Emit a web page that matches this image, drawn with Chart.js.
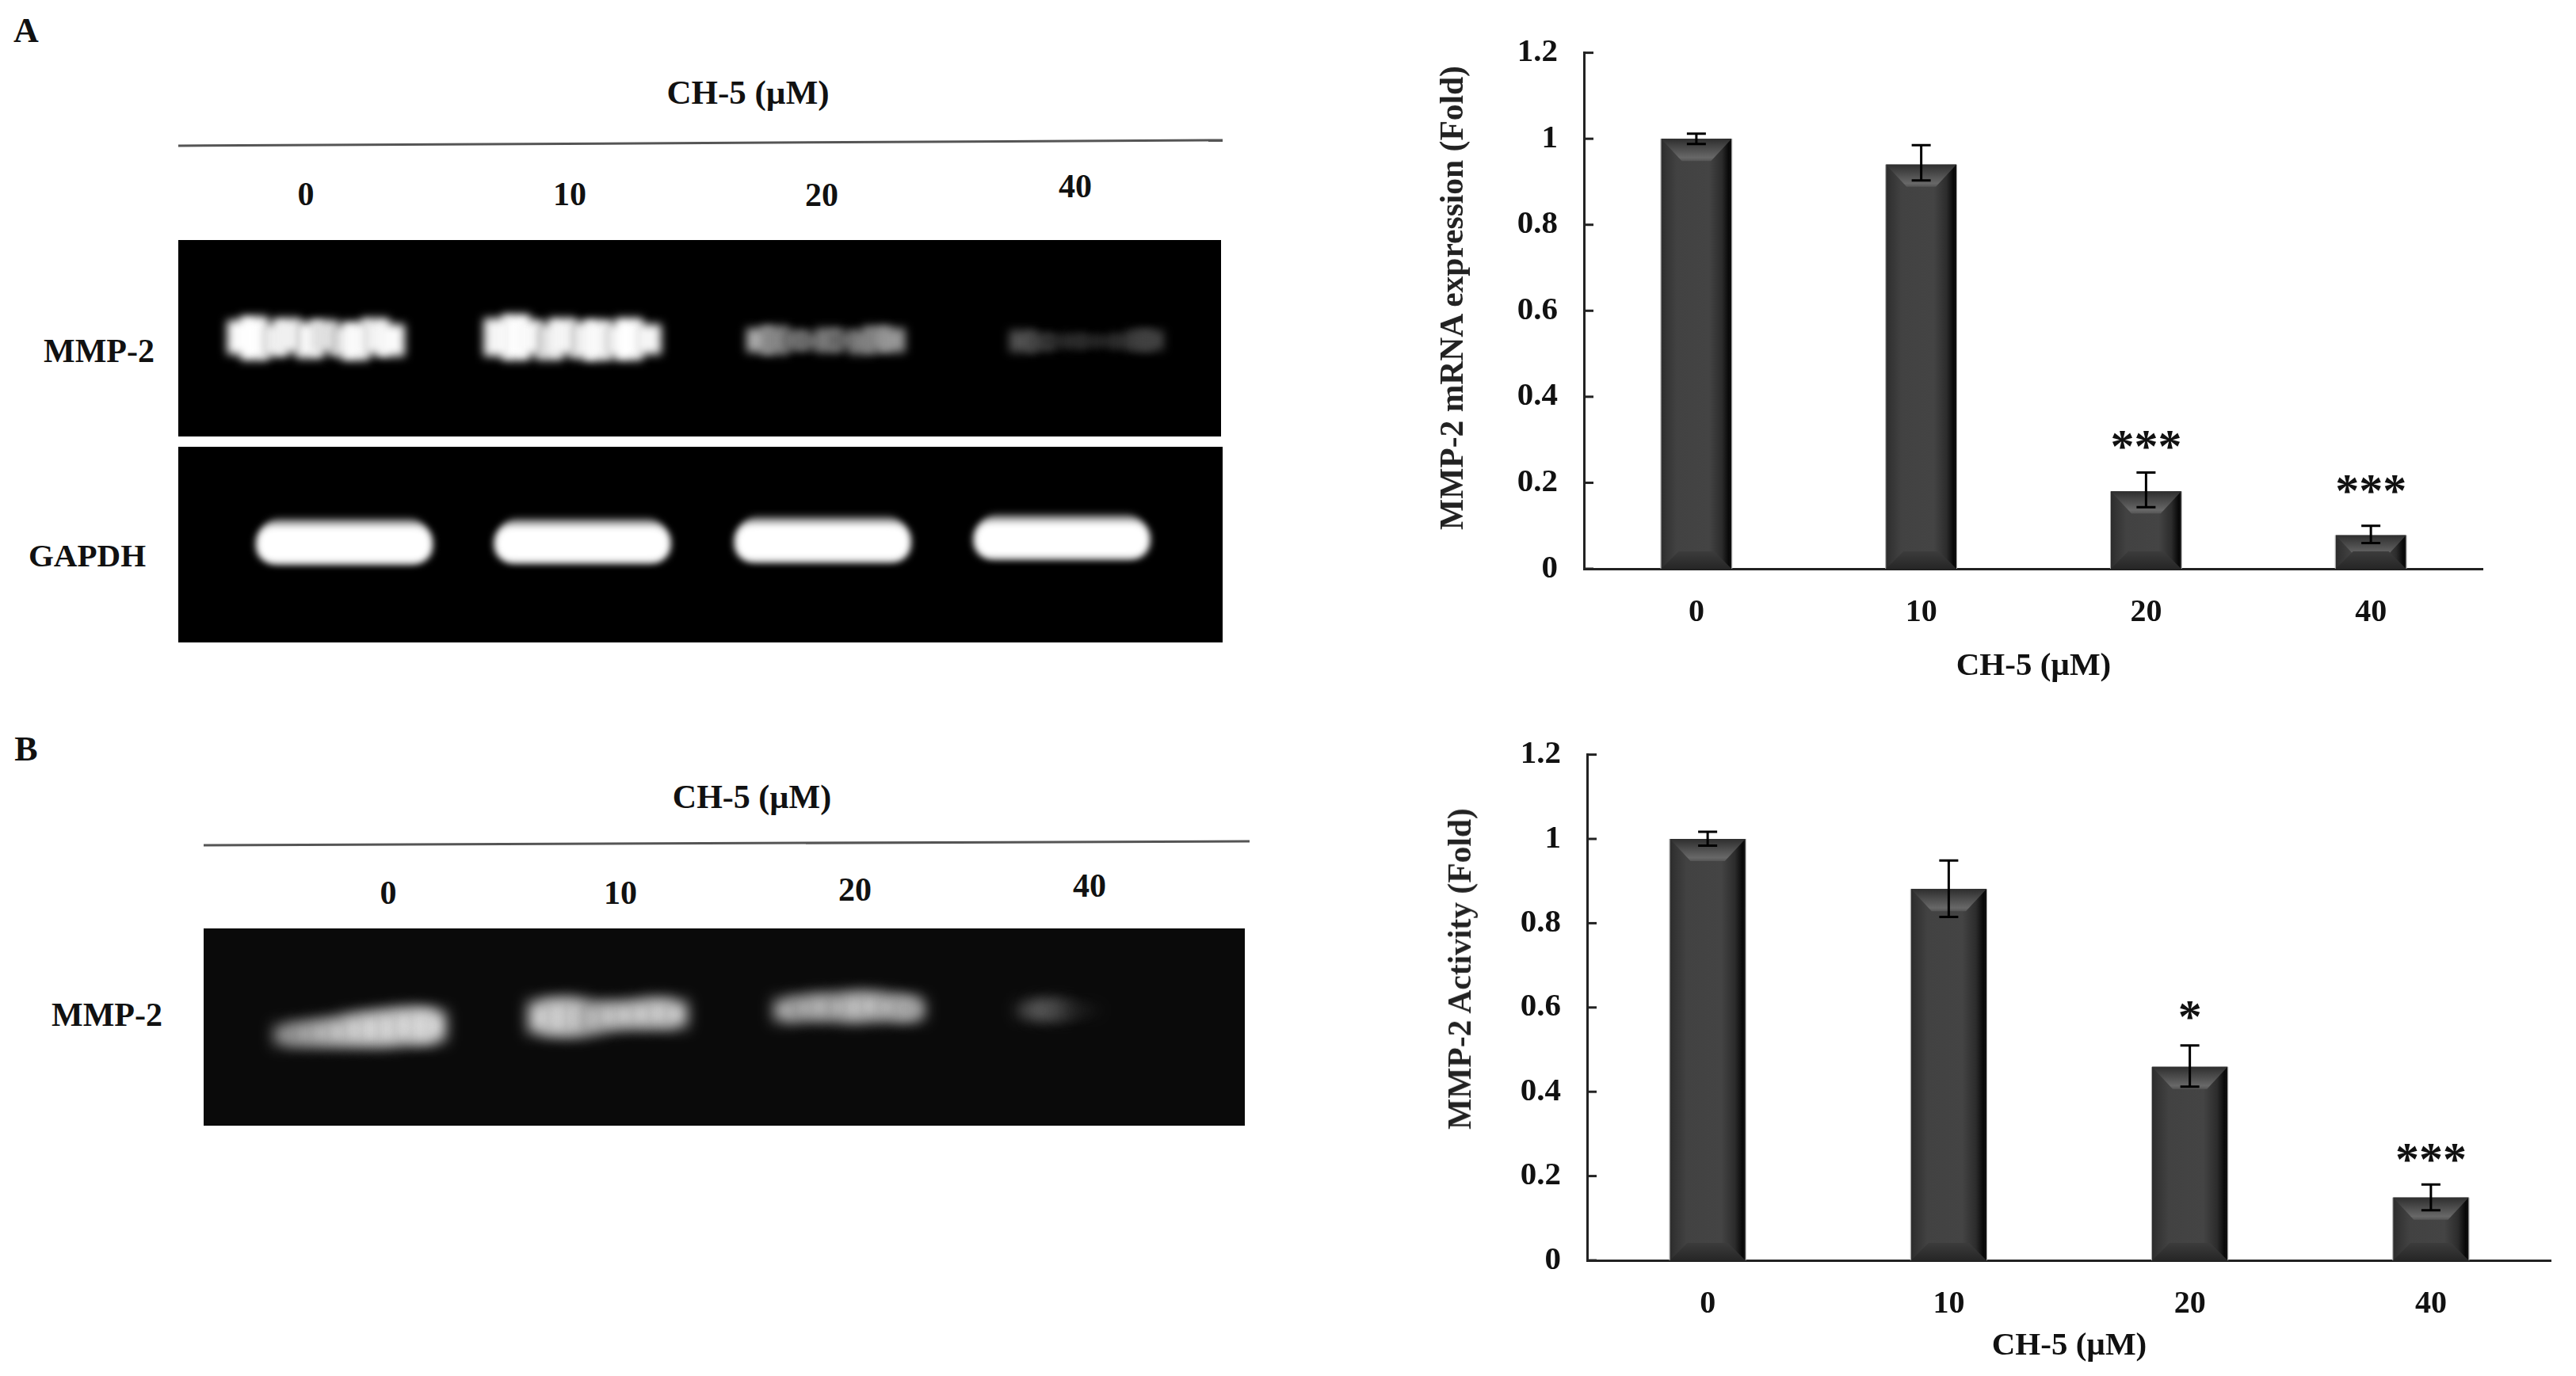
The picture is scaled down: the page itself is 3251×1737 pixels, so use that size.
<!DOCTYPE html>
<html>
<head>
<meta charset="utf-8">
<script src="https://cdn.jsdelivr.net/npm/chart.js@4"></script>
<style>
  body { margin: 0; background: #fff; width: 3251px; height: 1737px; overflow: hidden; position: relative; }
  canvas { position: absolute; }
  .lbl { position: absolute; transform: translate(-50%, -50%); font: bold 42px "Liberation Serif", serif; color: #111; white-space: nowrap; }
  .ytitle { transform: translate(-50%, -50%) rotate(-90deg); color: #222; }
  svg { position: absolute; left: 0; top: 0; }
</style>
</head>
<body>
<svg width="3251" height="1737">
  <line x1="225" y1="184" x2="1543" y2="177" stroke="#555" stroke-width="3"/>
  <line x1="257" y1="1067" x2="1577" y2="1062" stroke="#555" stroke-width="3"/>
</svg>

<canvas id="gelA1" width="1316" height="248" style="left:225px;top:303px;background:#000"></canvas>
<canvas id="gelA2" width="1318" height="247" style="left:225px;top:564px;background:#000"></canvas>
<canvas id="gelB" width="1314" height="249" style="left:257px;top:1172px;background:#0a0a0a"></canvas>
<canvas id="barsA" width="1327" height="849" style="left:1807px;top:17px"></canvas>
<canvas id="barsB" width="1403" height="821" style="left:1817px;top:903px"></canvas>

<script>
// bar panels
const doses = ['0', '10', '20', '40'];
const yTickLabels = ['0', '0.2', '0.4', '0.6', '0.8', '1', '1.2'];

const mrnaValues = [1.0, 0.94, 0.18, 0.078];
const mrnaErrLow = [0.988, 0.903, 0.143, 0.06];
const mrnaErrHigh = [1.012, 0.985, 0.224, 0.10];
const mrnaStars = ['', '', '***', '***'];
const mrnaStarLevel = [null, null, 0.278, 0.174];

const activityValues = [1.0, 0.881, 0.459, 0.149];
const activityErrLow = [0.984, 0.815, 0.412, 0.119];
const activityErrHigh = [1.017, 0.949, 0.51, 0.18];
const activityStars = ['', '', '*', '***'];
const activityStarLevel = [null, null, 0.57, 0.233];

// gel bands, in percent of the gel width and height
const gelA1X = [6, 7.3, 9.2, 10.4, 12.6, 14, 15.9, 17, 18.9, 20.4,
  30.6, 32.4, 33.6, 35.6, 36.8, 38.9, 40.2, 42, 43.2, 45,
  55.8, 57.2, 59.2, 60.4, 62.4, 63.6, 65.6, 67, 68.4,
  81, 82.8, 84, 86, 87.2, 89.2, 90.6, 92.2, 93.2];
const gelA1Low = [42, 39, 41, 43, 40, 43, 41, 39, 42, 41,
  41, 39, 42, 39, 42, 40, 39, 41, 39, 42,
  43, 42, 44, 45, 43, 45, 42, 44, 43,
  43, 44, 46, 45, 46, 46, 45, 44, 44];
const gelA1High = [59, 61, 57, 60, 58, 59, 56, 58, 60, 57,
  60, 62, 59, 57, 60, 58, 59, 57, 60, 57,
  55, 56, 54, 52, 55, 53, 54, 56, 55,
  54, 52, 51, 52, 51, 51, 52, 54, 54];
const gelA1Grey = [250, 255, 235, 240, 250, 225, 215, 250, 240, 250,
  245, 255, 250, 220, 245, 235, 250, 230, 255, 245,
  170, 135, 115, 105, 125, 100, 125, 130, 150,
  80, 70, 42, 45, 42, 42, 45, 60, 65];

const gelA2X = [15.9, 38.7, 61.7, 84.6];
const gelA2Low = [40.5, 41, 41.5, 43];
const gelA2High = [60, 60, 61, 62];
const gelA2HaloHigh = [63, 63, 64, 65];

const gelBX = [8, 9.6, 11.2, 12.8, 14.4, 16, 17.6, 19.2, 20.8, 22,
  32.4, 34, 35.6, 37.2, 38.8, 40.4, 42, 43.6, 45.2,
  56, 57.6, 59.2, 60.8, 62.4, 64, 65.6, 67.2, 68,
  79.3, 80.6, 82, 83.4, 84.8];
const gelBLow = [41, 41, 41, 41, 41, 41, 41, 42, 42, 43,
  47, 46, 46, 47, 49, 50, 50, 50, 50,
  53, 54, 54, 54, 53, 54, 54, 54, 54,
  55, 54.5, 54.5, 56, 57];
const gelBHigh = [51, 52, 53, 54, 56, 57, 58, 59, 59, 58,
  63, 64, 64, 62, 62, 62, 63, 64, 63,
  64, 65, 66, 66, 67, 67, 66, 65, 64,
  62, 63, 63, 61, 60];
const gelBGrey = [150, 165, 180, 195, 205, 215, 215, 215, 220, 215,
  205, 210, 205, 180, 195, 205, 205, 205, 205,
  175, 170, 185, 175, 190, 195, 185, 180, 165,
  70, 95, 80, 45, 30];

const serif = '"Liberation Serif", serif';

// plain text around the panels: [text, x, y, size, extra class]
const labels = [
  ['A', 33, 38, 44], ['B', 33, 945, 44],
  ['CH-5 (µM)', 944, 116, 43], ['CH-5 (µM)', 949, 1006, 42],
  ['0', 386, 245, 42], ['10', 719, 245, 42], ['20', 1037, 246, 42], ['40', 1357, 235, 42],
  ['0', 490, 1127, 42], ['10', 783, 1127, 42], ['20', 1079, 1123, 42], ['40', 1375, 1118, 42],
  ['MMP-2', 125, 443, 42], ['GAPDH', 110, 701, 41], ['MMP-2', 135, 1281, 42],
  ['MMP-2 mRNA expression (Fold)', 1832, 376, 41.5, 'ytitle'],
  ['MMP-2 Activity (Fold)', 1842, 1223, 41.5, 'ytitle']
];
labels.forEach(([text, x, y, size, cls]) => {
  const d = document.createElement('div');
  d.className = 'lbl' + (cls ? ' ' + cls : '');
  d.textContent = text;
  d.style.left = x + 'px';
  d.style.top = y + 'px';
  d.style.fontSize = size + 'px';
  document.body.appendChild(d);
});

// bevelled look of the bars, error bars, stars and inward ticks
const barDecor = {
  id: 'barDecor',
  afterDatasetsDraw(chart, args, opts) {
    const ctx = chart.ctx;
    const yScale = chart.scales.y;
    const bars = chart.getDatasetMeta(0).data;
    bars.forEach((bar, i) => {
      const { x, y, base, width } = bar.getProps(['x', 'y', 'base', 'width'], true);
      const l = x - width / 2, r = x + width / 2;
      const g = ctx.createLinearGradient(l, 0, r, 0);
      g.addColorStop(0, '#2c2c2c');
      g.addColorStop(0.07, '#343434');
      g.addColorStop(0.22, '#424242');
      g.addColorStop(0.68, '#444444');
      g.addColorStop(0.86, '#2c2c2c');
      g.addColorStop(0.96, '#080808');
      g.addColorStop(1, '#111111');
      ctx.fillStyle = g;
      ctx.fillRect(l, y, width, base - y);

      // top bevel
      const top = ctx.createLinearGradient(0, y, 0, y + 28);
      top.addColorStop(0, '#2e2e2e');
      top.addColorStop(0.85, '#686868');
      top.addColorStop(1, '#555555');
      ctx.fillStyle = top;
      ctx.beginPath();
      ctx.moveTo(l, y);
      ctx.lineTo(r, y);
      ctx.lineTo(r - 26, y + 28);
      ctx.lineTo(l + 26, y + 28);
      ctx.closePath();
      ctx.fill();

      // bottom bevel
      const bot = ctx.createLinearGradient(0, base - 22, 0, base);
      bot.addColorStop(0, '#3c3c3c');
      bot.addColorStop(1, '#262626');
      ctx.fillStyle = bot;
      ctx.beginPath();
      ctx.moveTo(l + 22, base - 22);
      ctx.lineTo(r - 22, base - 22);
      ctx.lineTo(r, base);
      ctx.lineTo(l, base);
      ctx.closePath();
      ctx.fill();

      ctx.strokeStyle = '#aaaaaa';
      ctx.lineWidth = 1;
      ctx.beginPath();
      ctx.moveTo(l - 0.5, y);
      ctx.lineTo(l - 0.5, base);
      ctx.moveTo(r + 0.5, y);
      ctx.lineTo(r + 0.5, base);
      ctx.stroke();

      // error bar
      const hi = yScale.getPixelForValue(opts.errHigh[i]);
      const lo = yScale.getPixelForValue(opts.errLow[i]);
      ctx.strokeStyle = '#000';
      ctx.lineWidth = 3;
      ctx.beginPath();
      ctx.moveTo(x, hi);
      ctx.lineTo(x, lo);
      ctx.moveTo(x - 12, hi);
      ctx.lineTo(x + 12, hi);
      ctx.moveTo(x - 12, lo);
      ctx.lineTo(x + 12, lo);
      ctx.stroke();

      if (opts.stars[i]) {
        ctx.fillStyle = '#111';
        ctx.font = 'bold 60px ' + serif;
        ctx.textAlign = 'center';
        ctx.textBaseline = 'middle';
        ctx.fillText(opts.stars[i], x, yScale.getPixelForValue(opts.starLevel[i]));
      }
    });

    // ticks point inwards in the original
    ctx.strokeStyle = '#222';
    ctx.lineWidth = 3;
    yScale.ticks.forEach(t => {
      const py = yScale.getPixelForValue(t.value);
      ctx.beginPath();
      ctx.moveTo(chart.chartArea.left, py);
      ctx.lineTo(chart.chartArea.left + 12, py);
      ctx.stroke();
    });
  }
};

function barChart(id, values, errLow, errHigh, stars, starLevel, axisWidth, axisHeight) {
  return new Chart(document.getElementById(id), {
    type: 'bar',
    data: {
      labels: doses,
      datasets: [{ data: values, backgroundColor: '#444444', barPercentage: 0.313, categoryPercentage: 1 }]
    },
    plugins: [barDecor],
    options: {
      responsive: false,
      animation: false,
      layout: { padding: { top: 30, right: 0, bottom: 0, left: 0 } },
      plugins: {
        legend: { display: false },
        tooltip: { enabled: false },
        barDecor: { errLow, errHigh, stars, starLevel }
      },
      scales: {
        x: {
          afterFit(s) { s.height = axisHeight; },
          grid: { display: false },
          border: { display: true, color: '#222', width: 3 },
          ticks: { color: '#111', font: { family: serif, weight: 'bold', size: 40 }, padding: 24, maxRotation: 0 },
          title: { display: true, text: 'CH-5 (µM)', color: '#111', font: { family: serif, weight: 'bold', size: 41 }, padding: 0 }
        },
        y: {
          min: 0,
          max: 1.2,
          afterFit(s) { s.width = axisWidth; },
          grid: { display: false },
          border: { display: true, color: '#222', width: 3 },
          ticks: {
            stepSize: 0.2,
            color: '#111',
            padding: 25,
            font: { family: serif, weight: 'bold', size: 41 },
            callback: (v, i) => yTickLabels[i]
          }
        }
      }
    }
  });
}

barChart('barsA', mrnaValues, mrnaErrLow, mrnaErrHigh, mrnaStars, mrnaStarLevel, 192, 148);
barChart('barsB', activityValues, activityErrLow, activityErrHigh, activityStars, activityStarLevel, 186, 133);

// gels are floating bars on a 0-100 grid, blurred
const gelBlur = {
  id: 'gelBlur',
  beforeDatasetsDraw(chart) { chart.ctx.save(); chart.ctx.filter = `blur(${chart.options.plugins.gelBlur.px}px)`; },
  afterDatasetsDraw(chart) { chart.ctx.restore(); }
};
const grey = g => `rgb(${g},${g},${g})`;
const floating = (xs, lows, highs) => xs.map((x, i) => ({ x, y: [lows[i], highs[i]] }));

function gelChart(id, datasets, px) {
  return new Chart(document.getElementById(id), {
    type: 'bar',
    data: { datasets },
    plugins: [gelBlur],
    options: {
      responsive: false,
      animation: false,
      layout: { padding: 0 },
      plugins: { legend: { display: false }, tooltip: { enabled: false }, gelBlur: { px } },
      scales: {
        x: { type: 'linear', min: 0, max: 100, display: false, offset: false },
        y: { type: 'linear', min: 0, max: 100, display: false }
      }
    }
  });
}

gelChart('gelA1', [{
  data: floating(gelA1X, gelA1Low, gelA1High),
  backgroundColor: gelA1Grey.map(grey),
  barThickness: 34,
  grouped: false
}], 6);
gelChart('gelA2', [{
  data: floating(gelA2X, gelA2Low, gelA2High),
  backgroundColor: '#ffffff',
  barThickness: 222,
  borderRadius: 22,
  borderSkipped: false,
  grouped: false
}, {
  data: floating(gelA2X, gelA2Low, gelA2HaloHigh),
  backgroundColor: '#8a8a8a',
  barThickness: 210,
  borderRadius: 22,
  borderSkipped: false,
  grouped: false
}], 5);
gelChart('gelB', [{
  data: floating(gelBX, gelBLow, gelBHigh),
  backgroundColor: gelBGrey.map(grey),
  barThickness: 32,
  grouped: false
}], 9);
</script>
</body>
</html>
